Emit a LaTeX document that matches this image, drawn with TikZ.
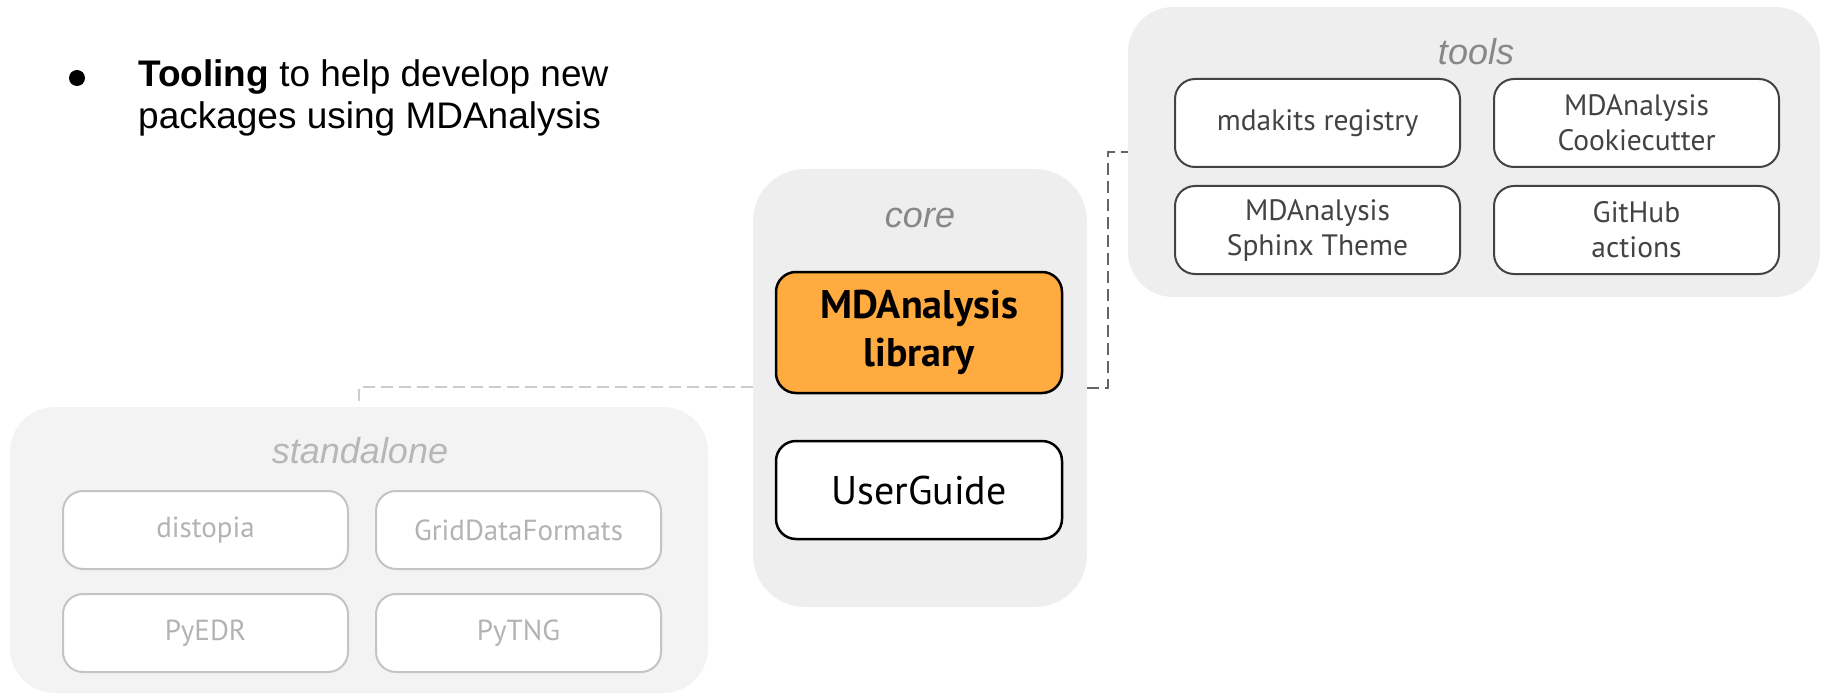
\documentclass[tikz,border=0pt]{standalone}
\usepackage{fontspec}
\setmainfont{PT Sans}
\newfontfamily\arialf{Liberation Sans}
\definecolor{grpfill}{HTML}{EEEEEE}
\definecolor{safill}{HTML}{F3F3F3}
\definecolor{lblgray}{HTML}{888888}
\definecolor{salbl}{HTML}{B7B7B7}
\definecolor{toolline}{HTML}{434343}
\definecolor{saline}{HTML}{C4C4C4}
\definecolor{satext}{HTML}{B3B3B3}
\definecolor{mdaorange}{HTML}{FFAB40}
\definecolor{condark}{HTML}{666666}
\definecolor{conlight}{HTML}{CCCCCC}
\tikzset{
  group/.style={draw=none, rounded corners=#1, anchor=north west, inner sep=0pt, outer sep=0pt},
  grplabel/.style={font=\arialf\itshape\fontsize{36}{40}\selectfont, anchor=base, inner sep=0pt},
  toolbox/.style={draw=toolline, line width=2pt, fill=white, rounded corners=20pt, anchor=north west,
    minimum width=285pt, minimum height=88pt, inner sep=0pt, outer sep=0pt, align=center,
    text=toolline, font=\fontsize{29.5}{35}\selectfont},
  sabox/.style={draw=saline, line width=2pt, fill=white, rounded corners=20pt, anchor=north west,
    minimum width=285pt, minimum height=78pt, inner sep=0pt, outer sep=0pt, align=center,
    text=satext, font=\fontsize{29}{34}\selectfont},
  corebox/.style={draw=black, line width=2.5pt, rounded corners=20pt, anchor=north west,
    minimum width=286pt, inner sep=0pt, outer sep=0pt, align=center, text=black},
  dashcon/.style={line width=2pt, dash pattern=on 12pt off 6pt}
}
\begin{document}
\begin{tikzpicture}[x=1pt,y=-1pt]
\useasboundingbox (0,0) rectangle (1822,695);
% bullet text
\fill (77,78) circle (8pt);
\node[anchor=north west, inner sep=0pt, align=left, font=\arialf\fontsize{37}{42}\selectfont] (bullet) at (138,59)
  {{\bfseries Tooling} to help develop new\\packages using MDAnalysis};
% groups
\node[group=45pt, fill=grpfill, minimum width=692pt, minimum height=290pt] (tools) at (1128,7) {};
\node[group=52pt, fill=grpfill, minimum width=334pt, minimum height=438pt] (core) at (753,169) {};
\node[group=45pt, fill=safill, minimum width=698pt, minimum height=286pt] (standalone) at (10,407) {};
\node[grplabel, text=lblgray] (toolslbl) at (1476,65) {tools};
\node[grplabel, text=lblgray] (corelbl) at (920,227) {core};
\node[grplabel, text=salbl] (salbl) at (360,463) {standalone};
% connectors
\coordinate (lj) at (359,387);
\coordinate (rj1) at (1108,388);
\coordinate (rj2) at (1108,152);
\draw[dashcon, draw=conlight] (core.west |- lj) -- (lj) -- (lj |- standalone.north);
\draw[dashcon, draw=condark] (core.east |- rj1) -- (rj1) -- (rj2) -- (rj2 -| tools.west);
% tools boxes
\node[toolbox] (mdakits) at (1175,79) {mdakits registry};
\node[toolbox] (cookie) at (1494,79) {MDAnalysis\\Cookiecutter};
\node[toolbox] (sphinx) at (1175,186) {MDAnalysis\\Sphinx Theme};
\node[toolbox] (gha) at (1494,186) {GitHub\\actions};
% core boxes
\node[corebox, fill=mdaorange, minimum height=121pt, font=\bfseries\fontsize{40}{48}\selectfont] (mda) at (776,272) {MDAnalysis\\library};
\node[corebox, fill=white, minimum height=98pt, font=\fontsize{40}{48}\selectfont] (ug) at (776,441) {UserGuide};
% standalone boxes
\node[sabox] (distopia) at (63,491) {distopia};
\node[sabox] (gdf) at (376,491) {GridDataFormats};
\node[sabox] (pyedr) at (63,594) {PyEDR};
\node[sabox] (pytng) at (376,594) {PyTNG};
\end{tikzpicture}
\end{document}
